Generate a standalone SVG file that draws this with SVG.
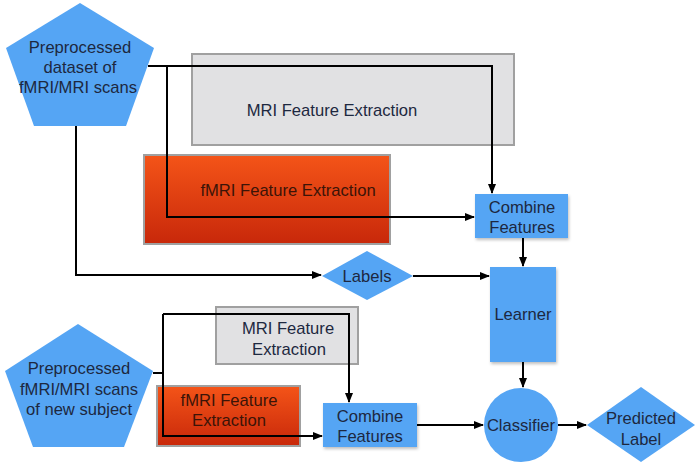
<svg xmlns="http://www.w3.org/2000/svg" width="700" height="468" viewBox="0 0 700 468">
<style>
.t{font-family:"Liberation Sans",Arial,sans-serif;font-size:16.6px;fill:#1d2840;text-anchor:middle;dominant-baseline:central}
.tr{font-family:"Liberation Sans",Arial,sans-serif;font-size:16.6px;fill:#3b1408;text-anchor:middle;dominant-baseline:central}
.blue{fill:#55a5f4}
.gray{fill:#e1e1e3;stroke:#a0a0a0;stroke-width:2}
.red{fill:url(#rg);stroke:#a0a0a0;stroke-width:2}
.c{fill:none;stroke:#000;stroke-width:2}
</style>
<defs>
<linearGradient id="rg" x1="0" y1="0" x2="0" y2="1">
<stop offset="0" stop-color="#f45418"/>
<stop offset="1" stop-color="#c8280a"/>
</linearGradient>
<filter id="sh" x="-10%" y="-10%" width="130%" height="130%">
<feDropShadow dx="1" dy="2" stdDeviation="1.5" flood-color="#000" flood-opacity="0.25"/>
</filter>
<marker id="ah" markerWidth="10" markerHeight="10" refX="9" refY="5" orient="auto" markerUnits="userSpaceOnUse">
<path d="M0,1 L10,5 L0,9 Z" fill="#000"/>
</marker>
</defs>
<rect width="700" height="468" fill="#fff"/>

<g id="mri-top">
<rect class="gray" x="192" y="54" width="322" height="91"/>
<text class="t" x="332" y="110">MRI Feature Extraction</text>
</g>
<g id="fmri-top">
<rect class="red" x="144" y="155" width="246" height="89"/>
<text class="tr" x="288" y="190">fMRI Feature Extraction</text>
</g>
<g id="mri-bottom">
<rect class="gray" x="216" y="307" width="142" height="57"/>
<text class="t" x="288" y="328">MRI Feature</text>
<text class="t" x="289" y="349">Extraction</text>
</g>
<g id="fmri-bottom">
<rect class="red" x="157" y="386" width="143" height="60"/>
<text class="tr" x="229" y="400">fMRI Feature</text>
<text class="tr" x="229" y="420">Extraction</text>
</g>

<g id="connectors">
<polyline class="c" points="148,66 492,66 492,193" marker-end="url(#ah)"/>
<polyline class="c" points="167,66 167,217 474,217" marker-end="url(#ah)"/>
<polyline class="c" points="76,126 76,275 321,275" marker-end="url(#ah)"/>
<line class="c" x1="413" y1="276" x2="489" y2="276" marker-end="url(#ah)"/>
<line class="c" x1="523" y1="238" x2="523" y2="266" marker-end="url(#ah)"/>
<line class="c" x1="523" y1="362" x2="523" y2="387" marker-end="url(#ah)"/>
<polyline class="c" points="153,373 163,373"/>
<polyline class="c" points="163,314 163,436 322,436" marker-end="url(#ah)"/>
<polyline class="c" points="163,314 349,314 349,402" marker-end="url(#ah)"/>
<line class="c" x1="417" y1="425" x2="483" y2="425" marker-end="url(#ah)"/>
<line class="c" x1="558" y1="425" x2="586" y2="425" marker-end="url(#ah)"/>
</g>

<g id="dataset-top">
<polygon class="blue" points="80,3 154,48 126,126 34,126 6,48"/>
<text class="t" x="80" y="47">Preprocessed</text>
<text class="t" x="80" y="67">dataset of</text>
<text class="t" x="78" y="87">fMRI/MRI scans</text>
</g>
<g id="dataset-new">
<polygon class="blue" points="78,324 153,371 124,447 33,447 5,371"/>
<text class="t" x="79" y="368">Preprocessed</text>
<text class="t" x="79" y="389">fMRI/MRI scans</text>
<text class="t" x="79" y="409">of new subject</text>
</g>
<g id="combine-top">
<rect class="blue" x="475" y="194" width="93" height="44" filter="url(#sh)"/>
<text class="t" x="522" y="207">Combine</text>
<text class="t" x="522" y="227">Features</text>
</g>
<g id="labels">
<polygon class="blue" points="367,251 413,276 367,300 322,276"/>
<text class="t" x="367" y="276">Labels</text>
</g>
<g id="learner">
<rect class="blue" x="490" y="267" width="66" height="95" filter="url(#sh)"/>
<text class="t" x="523" y="314">Learner</text>
</g>
<g id="combine-bottom">
<rect class="blue" x="323" y="403" width="94" height="44" filter="url(#sh)"/>
<text class="t" x="370" y="416">Combine</text>
<text class="t" x="370" y="436">Features</text>
</g>
<g id="classifier">
<circle class="blue" cx="521" cy="425" r="37"/>
<text class="t" x="521" y="425">Classifier</text>
</g>
<g id="predicted">
<polygon class="blue" points="641,387 695,425 641,462 587,425"/>
<text class="t" x="641" y="418">Predicted</text>
<text class="t" x="641" y="439">Label</text>
</g>
</svg>
